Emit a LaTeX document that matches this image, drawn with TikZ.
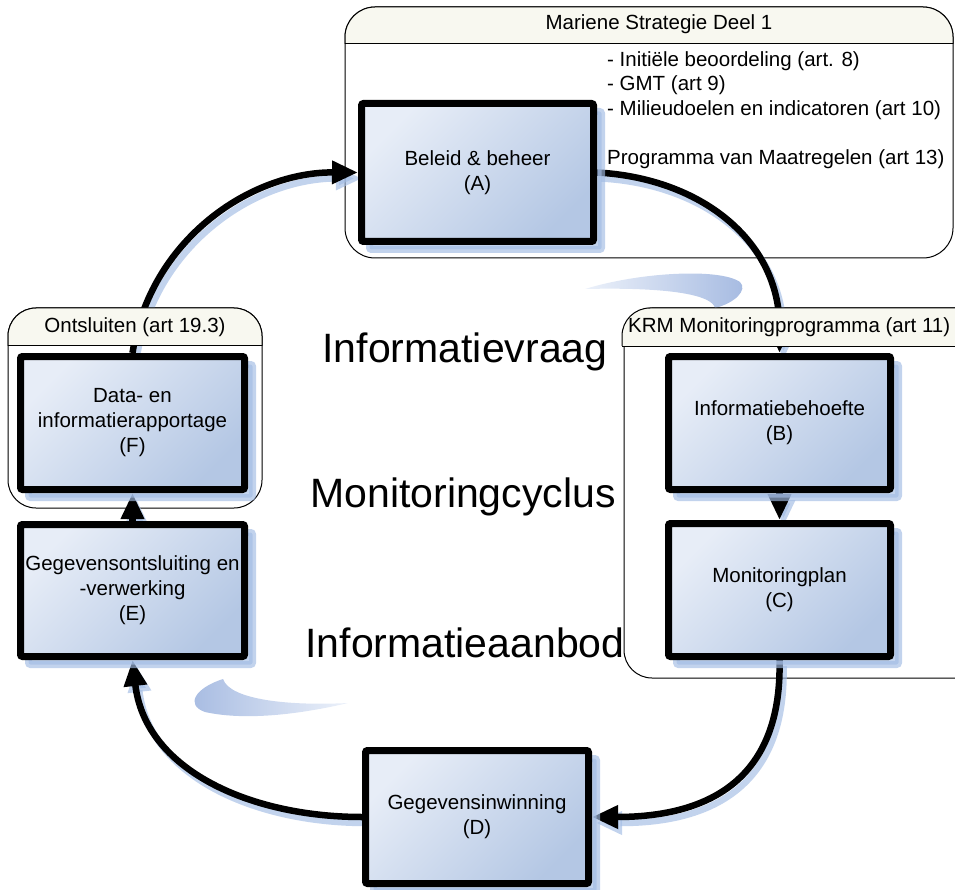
\documentclass[tikz,border=0pt]{standalone}
\usepackage{fontspec}
\setmainfont{Liberation Sans}
\usetikzlibrary{arrows.meta,shadows}
\definecolor{boxL}{RGB}{231,237,247}
\definecolor{boxR}{RGB}{180,199,228}
\definecolor{shad}{RGB}{162,188,228}
\definecolor{headfill}{RGB}{248,248,240}
\definecolor{swA}{RGB}{165,186,225}
\definecolor{swB}{RGB}{236,241,250}
\tikzset{
  stagebox/.style={draw=black, line width=7pt, rounded corners=2pt,
    top color=boxL, bottom color=boxR, shading angle=45,
    align=center, inner sep=0pt,
    font=\fontsize{20.5}{25}\selectfont,
    drop shadow={shadow xshift=8pt, shadow yshift=-8pt, fill=shad, draw=shad, line width=7pt, opacity=0.65}},
  contline/.style={draw=black, line width=1pt},
  headtext/.style={font=\fontsize{20.5}{25}\selectfont, inner sep=0pt},
  smalltext/.style={font=\fontsize{20.5}{25}\selectfont, inner sep=0pt, anchor=west},
  bigtext/.style={font=\fontsize{41}{49}\selectfont, inner sep=0pt, anchor=base},
  cyc/.style={draw=black, line width=6.5pt, -{Triangle[length=26pt,width=22pt]}},
  cycshadow/.style={draw=shad, line width=6.5pt, -{Triangle[length=26pt,width=22pt]},
    transform canvas={shift={(4pt,-6pt)}}, opacity=0.65}
}
\begin{document}
\begin{tikzpicture}[x=1pt,y=-1pt]
\useasboundingbox (0,0) rectangle (955,890);
\clip (0,0) rectangle (955,890);

% container outlines (bodies)
\draw[contline, rounded corners=30] (345,7) rectangle (953,258);
\draw[contline, rounded corners=28] (8,308) rectangle (262,508);
\draw[contline, rounded corners=28] (624,308) rectangle (990,678);

% positions
\coordinate (pA) at (477.5,172.5);
\coordinate (pB) at (779.5,423);
\coordinate (pC) at (779.5,590);
\coordinate (pD) at (477,817);
\coordinate (pE) at (132.5,590.5);
\coordinate (pF) at (132.5,423);

% invisible placeholders giving the anchors for the connectors
\begin{scope}[every node/.style={draw=none, line width=7pt, inner sep=0pt, outer sep=3.5pt}]
\node[minimum width=232pt, minimum height=138pt] (A0) at (pA) {};
\node[minimum width=222pt, minimum height=133pt] (B0) at (pB) {};
\node[minimum width=222pt, minimum height=133pt] (C0) at (pC) {};
\node[minimum width=223pt, minimum height=133pt] (D0) at (pD) {};
\node[minimum width=224pt, minimum height=132pt] (E0) at (pE) {};
\node[minimum width=224pt, minimum height=133pt] (F0) at (pF) {};
\end{scope}

% swooshes
\path[left color=swB, right color=swA, draw=none]
  (585,289) .. controls (640,272) and (720,268) .. (740,282)
  .. controls (748,290) and (735,303) .. (715,308)
  .. controls (712,295) and (670,287) .. (585,289) -- cycle;
\path[left color=swA, right color=swB, draw=none]
  (223,679) .. controls (195,688) and (185,705) .. (205,712)
  .. controls (250,722) and (310,712) .. (348,703)
  .. controls (290,706) and (230,700) .. (223,679) -- cycle;

% connector shadows
\draw[cycshadow] (F0.north) .. controls (150,240) and (250,172) .. (A0.west);
\draw[cycshadow] (A0.east) .. controls (700,178) and (780,240) .. (B0.north);
\draw[cycshadow] (B0.south) -- (C0.north);
\draw[cycshadow] (C0.south) .. controls (782,770) and (720,817) .. (D0.east);
\draw[cycshadow] (D0.west) .. controls (250,817) and (145,770) .. (E0.south);
\draw[cycshadow] (E0.north) -- (F0.south);
% connectors
\draw[cyc] (F0.north) .. controls (150,240) and (250,172) .. (A0.west);
\draw[cyc] (A0.east) .. controls (700,178) and (780,240) .. (B0.north);
\draw[cyc] (B0.south) -- (C0.north);
\draw[cyc] (C0.south) .. controls (782,770) and (720,817) .. (D0.east);
\draw[cyc] (D0.west) .. controls (250,817) and (145,770) .. (E0.south);
\draw[cyc] (E0.north) -- (F0.south);

% headers
\begin{scope}
\clip (0,0) rectangle (955,44);
\draw[contline, fill=headfill, rounded corners=30] (345,7) rectangle (953,258);
\end{scope}
\draw[contline] (345,44) -- (953,44);
\begin{scope}
\clip (0,0) rectangle (955,345);
\draw[contline, fill=headfill, rounded corners=28] (8,308) rectangle (262,508);
\draw[contline, fill=headfill, rounded corners=28] (622,308) rectangle (990,678);
\end{scope}
\draw[contline] (8,345) -- (262,345);
\draw[contline] (622,346) -- (955,346);

\node[headtext] (hA) at (659,24) {Mariene Strategie Deel 1};
\node[headtext] (hF) at (135,327) {Ontsluiten (art 19.3)};
\node[headtext, anchor=west] (hB) at (628,327) {KRM Monitoringprogramma (art 11)};

% boxes
\node[stagebox, minimum width=232pt, minimum height=138pt] (A) at (pA) {Beleid \& beheer\\(A)};
\node[stagebox, minimum width=222pt, minimum height=133pt] (B) at (pB) {Informatiebehoefte\\(B)};
\node[stagebox, minimum width=222pt, minimum height=133pt] (C) at (pC) {Monitoringplan\\(C)};
\node[stagebox, minimum width=223pt, minimum height=133pt] (D) at (pD) {Gegevensinwinning\\(D)};
\node[stagebox, minimum width=224pt, minimum height=132pt] (E) at (pE) {Gegevensontsluiting en\\-verwerking\\(E)};
\node[stagebox, minimum width=224pt, minimum height=133pt] (F) at (pF) {Data- en\\informatierapportage\\(F)};

% bullet texts
\node[smalltext] (t1) at (607,61) {- Initiële beoordeling (art. 8)};
\node[smalltext] (t2) at (607,85) {- GMT (art 9)};
\node[smalltext] (t3) at (607,110) {- Milieudoelen en indicatoren (art 10)};
\node[smalltext] (t4) at (607,159) {Programma van Maatregelen (art 13)};

% big texts
\node[bigtext] (g1) at (465,362) {Informatievraag};
\node[bigtext] (g2) at (463,507) {Monitoringcyclus};
\node[bigtext] (g3) at (465,657) {Informatieaanbod};
\end{tikzpicture}
\end{document}
